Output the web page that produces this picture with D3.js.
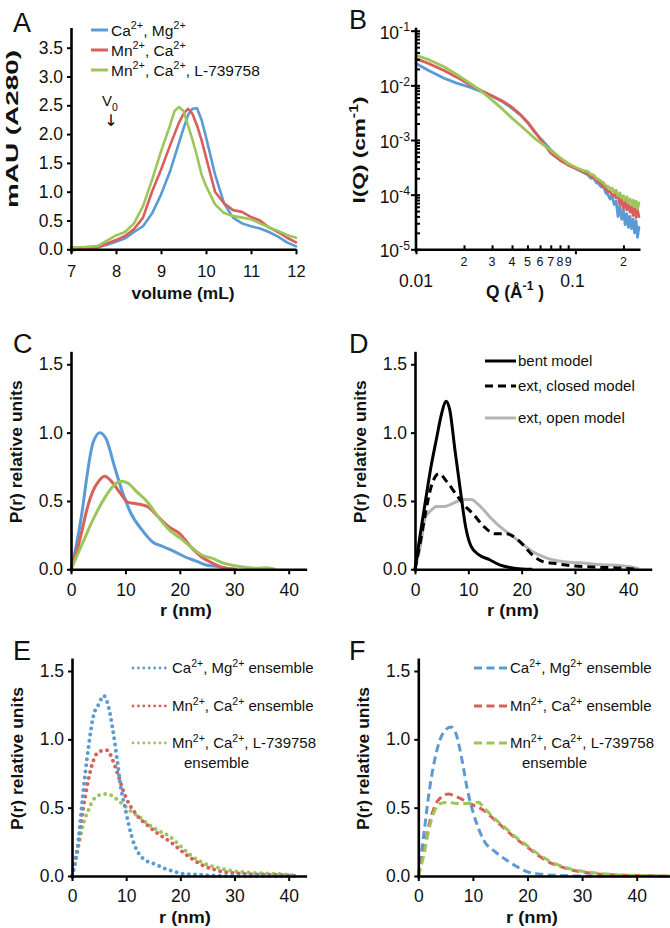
<!DOCTYPE html>
<html lang="en">
<head>
<meta charset="UTF-8">
<title>SEC, SAXS and P(r) panels</title>
<script src="https://d3js.org/d3.v7.min.js"></script>
<style>
  body { margin: 0; background: #fff; }
  svg { display: block; font-family: "Liberation Sans", Arial, Helvetica, sans-serif; }
  .axis path, .axis line { stroke: #000; }
  .axis path { stroke-width: 2.6px; }
  .axis line { stroke-width: 2px; }
  .axis text { font-size: 17.5px; fill: #111; font-family: "Liberation Sans", Arial, sans-serif; }
  .axis.small text { font-size: 16.5px; }
  .letter { font-size: 27px; fill: #111; }
</style>
</head>
<body>
<svg id="fig" width="670" height="928"></svg>
<script>
// ---------- data ----------
// A: size exclusion traces
const A_VOL = [7, 7.3, 7.6, 7.8, 8.0, 8.2, 8.4, 8.6, 8.8, 9.0, 9.2, 9.3, 9.4, 9.5, 9.6, 9.7, 9.8, 9.9, 10.0, 10.2, 10.4, 10.6, 10.8, 11.0, 11.2, 11.4, 11.6, 11.8, 12.0];
const A_BLUE = [0.03, 0.03, 0.04, 0.08, 0.13, 0.19, 0.3, 0.4, 0.62, 0.95, 1.35, 1.6, 1.85, 2.1, 2.33, 2.44, 2.45, 2.25, 1.95, 1.3, 0.8, 0.55, 0.45, 0.4, 0.36, 0.3, 0.22, 0.12, 0.05];
const A_RED = [-0.02, 0.01, 0.03, 0.1, 0.16, 0.23, 0.35, 0.55, 1.0, 1.38, 1.8, 2.0, 2.2, 2.35, 2.44, 2.35, 2.15, 1.9, 1.6, 1.0, 0.8, 0.68, 0.65, 0.56, 0.5, 0.38, 0.3, 0.2, 0.12];
const A_GREEN = [0.03, 0.04, 0.06, 0.15, 0.24, 0.3, 0.45, 0.75, 1.2, 1.7, 2.15, 2.4, 2.47, 2.4, 2.15, 1.9, 1.62, 1.3, 1.1, 0.78, 0.63, 0.58, 0.55, 0.52, 0.45, 0.38, 0.32, 0.25, 0.2];
const A_XTICKS = [7, 8, 9, 10, 11, 12];
const A_YTICKS = [0, 0.5, 1, 1.5, 2, 2.5, 3, 3.5];
const A_LEGEND = [
  [["Ca", 0], ["2+", 1], [", Mg", 0], ["2+", 1]],
  [["Mn", 0], ["2+", 1], [", Ca", 0], ["2+", 1]],
  [["Mn", 0], ["2+", 1], [", Ca", 0], ["2+", 1], [", L-739758", 0]]
];

// B: scattering curves, log10 I(Q)
const B_Q = [0.01, 0.012, 0.015, 0.018, 0.022, 0.025, 0.03, 0.035, 0.04, 0.045, 0.05, 0.056, 0.063, 0.07, 0.08, 0.09, 0.1, 0.11,
  0.12, 0.125, 0.13, 0.135, 0.14, 0.145, 0.15, 0.155, 0.16, 0.165, 0.17, 0.175, 0.18, 0.185, 0.19, 0.195, 0.2, 0.205, 0.21, 0.215, 0.22, 0.225, 0.23, 0.235, 0.24, 0.245, 0.25];
const B_LOG_BLUE = [-1.60, -1.73, -1.87, -1.96, -2.04, -2.10, -2.20, -2.30, -2.42, -2.54, -2.68, -2.87, -3.03, -3.18, -3.34, -3.44, -3.52, -3.58,
  -3.64, -3.70, -3.69, -3.78, -3.80, -3.86, -3.85, -3.97, -4.00, -4.08, -4.02, -4.18, -4.12, -4.40, -4.20, -4.45, -4.28, -4.55, -4.35, -4.60, -4.40, -4.62, -4.45, -4.70, -4.48, -4.78, -4.60];
const B_LOG_RED = [-1.51, -1.60, -1.73, -1.85, -2.00, -2.08, -2.19, -2.29, -2.40, -2.53, -2.67, -2.86, -3.06, -3.24, -3.37, -3.46, -3.52, -3.57,
  -3.62, -3.66, -3.70, -3.72, -3.78, -3.80, -3.86, -3.88, -3.95, -3.94, -4.02, -3.98, -4.06, -4.02, -4.18, -4.08, -4.25, -4.12, -4.28, -4.18, -4.32, -4.22, -4.38, -4.25, -4.42, -4.28, -4.40];
const B_LOG_GREEN = [-1.45, -1.53, -1.66, -1.80, -1.97, -2.08, -2.27, -2.44, -2.60, -2.73, -2.85, -2.98, -3.09, -3.19, -3.32, -3.43, -3.50, -3.55,
  -3.58, -3.63, -3.64, -3.70, -3.72, -3.76, -3.78, -3.84, -3.85, -3.90, -3.88, -3.96, -3.92, -4.02, -3.97, -4.06, -4.02, -4.10, -4.04, -4.14, -4.08, -4.18, -4.10, -4.22, -4.12, -4.26, -4.15];
const B_DECADES = [-1, -2, -3, -4, -5];
const B_XMINOR = [0.02, 0.03, 0.04, 0.05, 0.06, 0.07, 0.08, 0.09, 0.2];
const B_XMAJOR = [0.01, 0.1];

// C: experimental P(r)
const C_R_BLUE = [0, 1, 2, 3, 4, 5.3, 6.5, 8, 9.5, 11, 13, 15, 17, 19, 21, 23, 25, 27, 29, 30];
const C_BLUE = [0, 0.18, 0.41, 0.70, 0.92, 1.0, 0.95, 0.75, 0.56, 0.41, 0.29, 0.20, 0.165, 0.13, 0.09, 0.06, 0.03, 0.02, 0.005, 0];
const C_R_RED = [0, 1, 2, 3, 4, 5, 6.2, 7.5, 9, 10.5, 12, 14, 16, 18, 20, 22, 24, 26, 28, 29, 30.5];
const C_RED = [0, 0.12, 0.28, 0.45, 0.57, 0.64, 0.68, 0.64, 0.56, 0.49, 0.48, 0.46, 0.385, 0.31, 0.26, 0.165, 0.09, 0.045, 0.012, 0.005, 0];
const C_R_GREEN = [0, 2, 4, 6, 8, 9.2, 10.5, 12, 14, 16, 18, 20, 22, 24, 26, 28, 30, 32, 34, 36, 37.5];
const C_GREEN = [0, 0.18, 0.36, 0.51, 0.62, 0.645, 0.63, 0.57, 0.495, 0.385, 0.29, 0.23, 0.165, 0.105, 0.08, 0.045, 0.027, 0.015, 0.008, 0.012, 0];

// D: model P(r)
const D_R_BENT = [0, 1, 2, 3, 4, 5, 5.8, 6.5, 7.5, 8.5, 9.5, 10.5, 12, 14, 16, 18, 20, 22];
const D_BENT = [0, 0.26, 0.51, 0.75, 0.95, 1.14, 1.23, 1.17, 0.87, 0.58, 0.31, 0.17, 0.105, 0.07, 0.03, 0.012, 0.003, 0];
const D_R_CLOSED = [0, 1, 2, 3, 4.5, 6, 7.5, 9, 11, 13, 15, 17, 18, 20, 22, 24, 26, 30, 34, 38, 42];
const D_CLOSED = [0, 0.2, 0.42, 0.6, 0.70, 0.64, 0.56, 0.48, 0.40, 0.31, 0.26, 0.26, 0.25, 0.19, 0.105, 0.056, 0.044, 0.024, 0.015, 0.01, 0];
const D_R_OPEN = [0, 1, 2, 3, 4, 5.5, 7, 9, 10.5, 12, 14, 16, 18, 20, 22, 24, 26, 28, 32, 36, 38, 40, 42];
const D_OPEN = [0, 0.17, 0.385, 0.43, 0.46, 0.46, 0.48, 0.51, 0.51, 0.47, 0.385, 0.31, 0.25, 0.19, 0.13, 0.093, 0.068, 0.056, 0.044, 0.032, 0.03, 0.02, 0.005];
const D_LEGEND = ["bent model", "ext, closed model", "ext, open model"];

// E: ensemble P(r) (dotted)
const E_R_BLUE = [0, 1, 2, 3, 4, 5, 5.8, 6.6, 7.5, 8.3, 9, 9.8, 10.5, 11.5, 12.5, 14, 15.5, 17, 18.5, 20, 22, 24, 26, 30, 35, 42];
const E_BLUE = [0, 0.2, 0.59, 0.93, 1.18, 1.26, 1.32, 1.26, 1.08, 0.86, 0.65, 0.50, 0.37, 0.23, 0.155, 0.105, 0.085, 0.056, 0.037, 0.02, 0.012, 0.008, 0.004, 0, 0, 0];
const E_R_RED = [0, 1, 2, 3, 4, 5, 6.5, 7.5, 8.5, 9.5, 10.5, 11.5, 12.5, 14, 15.5, 17, 18.5, 20, 22, 24, 26, 28, 30, 34, 38, 42];
const E_RED = [0, 0.2, 0.48, 0.70, 0.85, 0.91, 0.92, 0.85, 0.74, 0.62, 0.53, 0.47, 0.42, 0.37, 0.32, 0.28, 0.24, 0.19, 0.13, 0.08, 0.05, 0.03, 0.02, 0.012, 0.008, 0];
const E_R_GREEN = [0, 1, 2, 3, 4, 5, 6.5, 8, 9.5, 11, 12.5, 14, 16, 18, 20, 22, 24, 26, 28, 30, 34, 38, 41];
const E_GREEN = [0, 0.18, 0.37, 0.48, 0.56, 0.59, 0.60, 0.57, 0.52, 0.47, 0.43, 0.38, 0.33, 0.29, 0.22, 0.15, 0.10, 0.07, 0.05, 0.035, 0.022, 0.015, 0.005];

// F: ensemble P(r) (dashed)
const F_R_BLUE = [0, 1, 2, 3, 4, 5, 6, 7, 8, 9, 10, 11, 12, 14, 16, 18, 20, 22, 25, 30, 40];
const F_BLUE = [0, 0.3, 0.62, 0.85, 1.0, 1.07, 1.09, 1.03, 0.85, 0.63, 0.47, 0.35, 0.26, 0.18, 0.12, 0.07, 0.03, 0.015, 0.005, 0, 0];
const F_R_RED = [0, 1, 2, 3, 4, 5.5, 7, 9, 10, 12, 14, 16, 18, 20, 22, 24, 26, 28, 30, 33, 36, 40, 46];
const F_RED = [0, 0.18, 0.38, 0.51, 0.57, 0.60, 0.58, 0.54, 0.52, 0.48, 0.41, 0.34, 0.27, 0.21, 0.15, 0.10, 0.07, 0.045, 0.03, 0.015, 0.008, 0.003, 0];
const F_R_GREEN = [0, 1, 2, 3, 4, 5.5, 7, 9, 11, 12, 14, 16, 18, 20, 22, 24, 26, 28, 30, 33, 36, 40, 46];
const F_GREEN = [0, 0.15, 0.35, 0.48, 0.53, 0.54, 0.53, 0.53, 0.54, 0.50, 0.42, 0.35, 0.28, 0.22, 0.16, 0.11, 0.075, 0.05, 0.035, 0.02, 0.01, 0.005, 0];

const PR_XTICKS = [0, 10, 20, 30, 40];
const PR_YTICKS = [0, 0.5, 1, 1.5];
const ENS_LEGEND = [
  [["Ca", 0], ["2+", 1], [", Mg", 0], ["2+", 1], [" ensemble", 0]],
  [["Mn", 0], ["2+", 1], [", Ca", 0], ["2+", 1], [" ensemble", 0]],
  [["Mn", 0], ["2+", 1], [", Ca", 0], ["2+", 1], [", L-739758", 0]]
];

// ---------- styles ----------
const BLUE = "#5b9bd5", RED = "#d9605a", GREEN = "#9dc65a", GREY = "#b4b4b4";
const svg = d3.select("#fig");

// text with superscripts: parts = [[string, 1 sup | -1 sub | 0]]
function rich(parent, parts, size, weight) {
  const t = parent.append("text")
    .attr("font-size", size)
    .attr("font-weight", weight || "normal")
    .attr("fill", "#111");
  let shift = 0;
  parts.forEach(([s, k]) => {
    const target = k === 1 ? -0.42 * size : k === -1 ? 0.3 * size : 0;
    t.append("tspan")
      .attr("dy", target - shift)
      .attr("font-size", k ? size * 0.7 : size)
      .text(s);
    shift = target;
  });
  return t;
}

// stretch a text to a measured length
function stretch(t, len) {
  const w = t.node().getComputedTextLength();
  if (len && w) t.attr("transform", `scale(${len / w},1)`);
}

function yTitle(parts, cx, cy, size, len) {
  const g = svg.append("g").attr("transform", `translate(${cx},${cy}) rotate(-90)`);
  const t = rich(g, parts, size, "bold").attr("text-anchor", "middle").attr("dy", "0.35em");
  stretch(t, len);
}

function xTitle(parts, cx, by, size, len) {
  const g = svg.append("g").attr("transform", `translate(${cx},${by})`);
  const t = rich(g, parts, size, "bold").attr("text-anchor", "middle");
  stretch(t, len);
}

function letter(s, x, y) {
  svg.append("text").attr("class", "letter").attr("x", x).attr("y", y).text(s);
}

function curve(g, xs, ys, x, y, color, width, dash, cap, curveType) {
  const pts = xs.map((v, i) => [v, ys[i]]);
  const line = d3.line().x(d => x(d[0])).y(d => y(d[1])).curve(curveType || d3.curveMonotoneX);
  g.append("path")
    .attr("d", line(pts))
    .attr("fill", "none")
    .attr("stroke", color)
    .attr("stroke-width", width)
    .attr("stroke-linejoin", "round")
    .attr("stroke-linecap", cap || "butt")
    .attr("stroke-dasharray", dash || null);
}

// extend a linear scale beyond its tick domain, keeping px per unit
function extend(base, lo, hi) {
  return base.copy().domain([lo, hi]).range([base(lo), base(hi)]);
}

// ---------- panel A ----------
{
  const x = d3.scaleLinear().domain([7, 12]).range([71, 296]);
  const y = extend(d3.scaleLinear().domain([0, 3.5]).range([249.3, 47.7]), -0.05, 3.85);
  const g = svg.append("g");

  curve(g, A_VOL, A_BLUE, x, y, BLUE, 2.6, null, "round", d3.curveLinear);
  curve(g, A_VOL, A_RED, x, y, RED, 2.6, null, "round", d3.curveLinear);
  curve(g, A_VOL, A_GREEN, x, y, GREEN, 2.6, null, "round", d3.curveLinear);

  g.append("g").attr("class", "axis small").attr("transform", `translate(0,${y(0)})`)
    .call(d3.axisBottom(x).tickValues(A_XTICKS).tickFormat(d3.format("d")).tickSize(5).tickSizeOuter(0).tickPadding(11));
  g.append("g").attr("class", "axis").attr("transform", `translate(${x(7)},0)`)
    .call(d3.axisLeft(y).tickValues(A_YTICKS).tickFormat(d3.format(".1f")).tickSize(4).tickSizeOuter(0).tickPadding(4));

  [BLUE, RED, GREEN].forEach((c, i) => {
    const yy = [30, 50, 70][i];
    g.append("line").attr("x1", 91).attr("x2", 108).attr("y1", yy).attr("y2", yy)
      .attr("stroke", c).attr("stroke-width", 3);
    rich(g, A_LEGEND[i], 15.5).attr("x", 111).attr("y", yy + 6);
  });

  // void volume marker
  rich(g, [["V", 0], ["0", -1]], 15).attr("x", 102).attr("y", 106);
  g.append("text").attr("x", 111).attr("y", 126).attr("text-anchor", "middle")
    .attr("font-size", 16).attr("font-family", "DejaVu Sans").text("\u2193");

  yTitle([["mAU (A280)", 0]], 18, 129, 17, 158);
  xTitle([["volume (mL)", 0]], 183, 298.5, 17, 103);
  letter("A", 13, 32);
}

// ---------- panel B ----------
{
  const x = d3.scaleLog().domain([0.01, 0.254]).range([416, 640]);
  const y = d3.scaleLog().domain([1e-5, 1e-1]).range([249.3, 30.7]);
  const g = svg.append("g");

  curve(g, B_Q, B_LOG_BLUE.map(v => Math.pow(10, v)), x, y, BLUE, 2.8, null, "round", d3.curveLinear);
  curve(g, B_Q, B_LOG_RED.map(v => Math.pow(10, v)), x, y, RED, 2.8, null, "round", d3.curveLinear);
  curve(g, B_Q, B_LOG_GREEN.map(v => Math.pow(10, v)), x, y, GREEN, 2.8, null, "round", d3.curveLinear);

  const yMinor = [];
  B_DECADES.slice(1).forEach(d => { for (let k = 2; k <= 9; k++) yMinor.push(k * Math.pow(10, d)); });
  const yMajor = B_DECADES.map(d => Math.pow(10, d));

  // x axis: minor ticks inside, decades outside
  g.append("g").attr("class", "axis").attr("transform", `translate(0,${y(1e-5)})`)
    .call(d3.axisBottom(x).tickValues(B_XMAJOR).tickFormat("").tickSize(5).tickSizeOuter(0));
  g.append("g").attr("class", "axis").attr("transform", `translate(0,${y(1e-5)})`)
    .call(d3.axisTop(x).tickValues(B_XMINOR).tickFormat("").tickSize(4).tickSizeOuter(0))
    .select(".domain").remove();
  B_XMINOR.forEach(q => {
    g.append("text").attr("x", x(q)).attr("y", y(1e-5) + 17).attr("text-anchor", "middle")
      .attr("font-size", 12.5).attr("fill", "#111").text(Math.round(q / Math.pow(10, Math.floor(Math.log10(q) + 1e-9))));
  });
  B_XMAJOR.forEach(q => {
    g.append("text").attr("x", x(q) + (q === 0.01 ? 0 : -3)).attr("y", y(1e-5) + 38).attr("text-anchor", "middle")
      .attr("font-size", 17.5).attr("fill", "#111").text(q);
  });

  // y axis
  const ya = g.append("g").attr("class", "axis").attr("transform", `translate(${x(0.01)},0)`);
  ya.call(d3.axisLeft(y).tickValues(yMajor).tickFormat("").tickSize(5).tickSizeOuter(0));
  ya.select(".domain").attr("d", `M0,${y(1e-1) - 3}V${y(1e-5) + 3}`);
  g.append("g").attr("class", "axis").attr("transform", `translate(${x(0.01)},0)`)
    .call(d3.axisRight(y).tickValues(yMinor.concat(yMajor)).tickFormat("").tickSize(4).tickSizeOuter(0))
    .select(".domain").remove();
  B_DECADES.forEach(d => {
    rich(g, [["10", 0], [String(d), 1]], 17.5).attr("text-anchor", "end")
      .attr("x", x(0.01) - 6).attr("y", y(Math.pow(10, d)) + 8);
  });

  yTitle([["I(Q) (cm", 0], ["-1", 1], [")", 0]], 365, 150, 17, 107);
  xTitle([["Q (\u00c5", 0], ["-1", 1], [" )", 0]], 515, 298, 19, 58);
  letter("B", 349, 29);
}

// ---------- P(r) panels ----------
function prPanel(opt) {
  const x = extend(d3.scaleLinear().domain([0, 40]).range([opt.x0, opt.x40]), 0, opt.xmax);
  const y = extend(d3.scaleLinear().domain([0, 1.5]).range([opt.y0, opt.y15]), -0.015, 1.595);
  const g = svg.append("g");

  opt.series.forEach(s => curve(g, s.r, s.v, x, y, s.color, s.width, s.dash, s.cap));

  g.append("g").attr("class", "axis").attr("transform", `translate(0,${y(0)})`)
    .call(d3.axisBottom(x).tickValues(PR_XTICKS).tickFormat(d3.format("d")).tickSize(5).tickSizeOuter(0).tickPadding(9));
  g.append("g").attr("class", "axis").attr("transform", `translate(${x(0)},0)`)
    .call(d3.axisLeft(y).tickValues(PR_YTICKS).tickFormat(d3.format(".1f")).tickSize(4).tickSizeOuter(0).tickPadding(4));

  opt.legend.forEach((l, i) => {
    g.append("line").attr("x1", l.x1).attr("x2", l.x2).attr("y1", l.y).attr("y2", l.y)
      .attr("stroke", l.color).attr("stroke-width", l.width).attr("stroke-dasharray", l.dash || null)
      .attr("stroke-linecap", l.cap || "butt");
    rich(g, l.text, 15).attr("x", l.x2 + 2).attr("y", l.y + 5);
    if (l.more) rich(g, [[l.more, 0]], 15).attr("x", l.x2 + 14).attr("y", l.y + 25);
  });

  yTitle([["P(r) relative units", 0]], opt.x0 - 49, (opt.y0 + opt.y15) / 2 - 15, 17, 143);
  xTitle([["r (nm)", 0]], opt.xt, opt.y0 + 47, 17, 52);
  letter(opt.letter, opt.lx, opt.ly);
}

const DOT = "0 6.2", DASH = "8 4.5";

prPanel({
  letter: "C", lx: 13, ly: 353, x0: 71, x40: 288.7, xmax: 43.3, y0: 569.3, y15: 364.3, xt: 186,
  series: [
    { r: C_R_BLUE, v: C_BLUE, color: BLUE, width: 3 },
    { r: C_R_RED, v: C_RED, color: RED, width: 3 },
    { r: C_R_GREEN, v: C_GREEN, color: GREEN, width: 3 }
  ],
  legend: []
});

prPanel({
  letter: "D", lx: 349, ly: 353, x0: 415, x40: 628.3, xmax: 44.4, y0: 569.3, y15: 364.3, xt: 513,
  series: [
    { r: D_R_OPEN, v: D_OPEN, color: GREY, width: 3 },
    { r: D_R_CLOSED, v: D_CLOSED, color: "#000", width: 3, dash: "8 5" },
    { r: D_R_BENT, v: D_BENT, color: "#000", width: 3 }
  ],
  legend: [
    { text: [[D_LEGEND[0], 0]], x1: 485, x2: 516, y: 361, color: "#000", width: 3 },
    { text: [[D_LEGEND[1], 0]], x1: 485, x2: 516, y: 386, color: "#000", width: 3, dash: "8 5" },
    { text: [[D_LEGEND[2], 0]], x1: 485, x2: 516, y: 418, color: GREY, width: 3 }
  ]
});

prPanel({
  letter: "E", lx: 13, ly: 660, x0: 72, x40: 288.7, xmax: 43.3, y0: 876, y15: 671, xt: 185,
  series: [
    { r: E_R_GREEN, v: E_GREEN, color: GREEN, width: 4, dash: DOT, cap: "round" },
    { r: E_R_RED, v: E_RED, color: RED, width: 4, dash: DOT, cap: "round" },
    { r: E_R_BLUE, v: E_BLUE, color: BLUE, width: 4, dash: DOT, cap: "round" }
  ],
  legend: [
    { text: ENS_LEGEND[0], x1: 133, x2: 170, y: 668, color: BLUE, width: 2.8, dash: "0 5.4", cap: "round" },
    { text: ENS_LEGEND[1], x1: 133, x2: 170, y: 706, color: RED, width: 2.8, dash: "0 5.4", cap: "round" },
    { text: ENS_LEGEND[2], x1: 133, x2: 170, y: 743, color: GREEN, width: 2.8, dash: "0 5.4", cap: "round", more: "ensemble" }
  ]
});

prPanel({
  letter: "F", lx: 349, ly: 660, x0: 418.3, x40: 636.7, xmax: 46.2, y0: 876, y15: 671, xt: 532,
  series: [
    { r: F_R_BLUE, v: F_BLUE, color: BLUE, width: 3 , dash: DASH },
    { r: F_R_RED, v: F_RED, color: RED, width: 3, dash: DASH },
    { r: F_R_GREEN, v: F_GREEN, color: GREEN, width: 3, dash: DASH }
  ],
  legend: [
    { text: ENS_LEGEND[0], x1: 474, x2: 508, y: 668, color: BLUE, width: 3, dash: DASH },
    { text: ENS_LEGEND[1], x1: 474, x2: 508, y: 706, color: RED, width: 3, dash: DASH },
    { text: ENS_LEGEND[2], x1: 474, x2: 508, y: 743, color: GREEN, width: 3, dash: DASH, more: "ensemble" }
  ]
});
</script>
</body>
</html>
